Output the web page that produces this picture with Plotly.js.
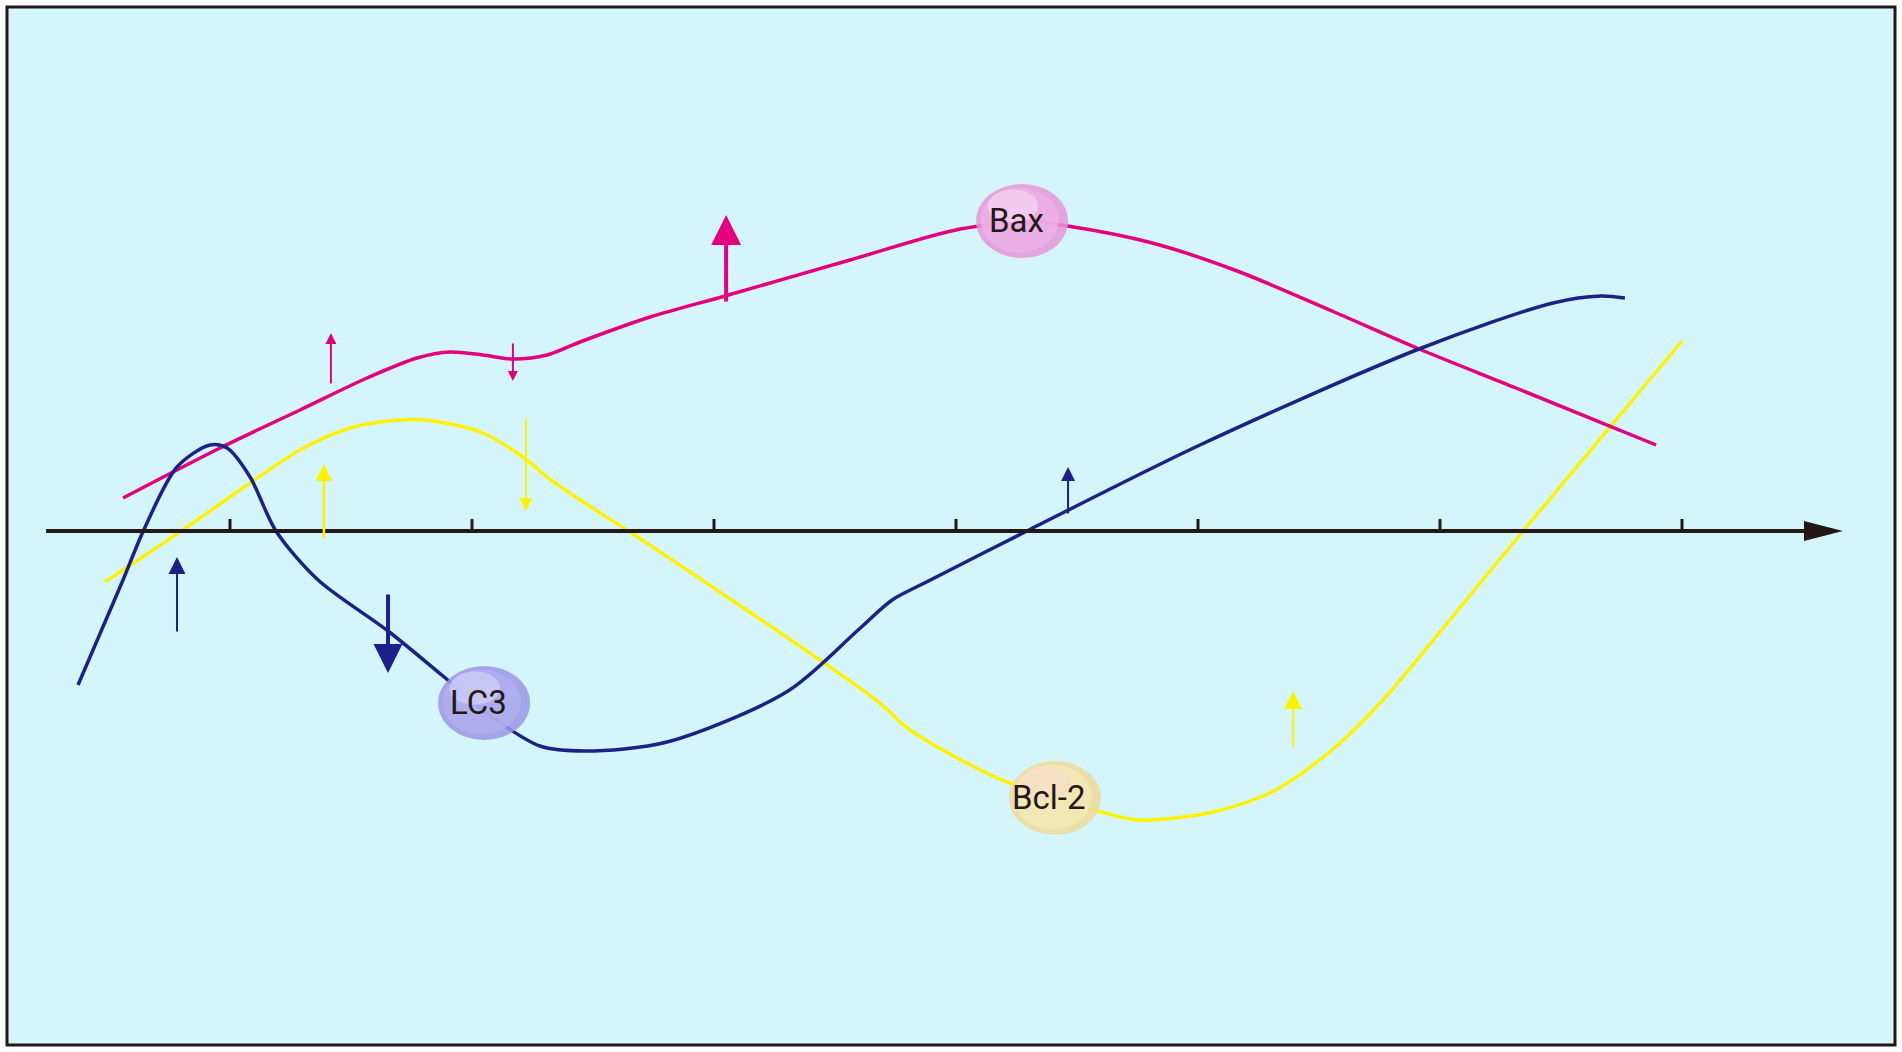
<!DOCTYPE html>
<html>
<head>
<meta charset="UTF-8">
<title>Bax / LC3 / Bcl-2</title>
<script src="https://cdn.plot.ly/plotly-3.0.1.min.js"></script>
<style>
  body { margin: 0; padding: 0; background: #fff; }
</style>
</head>
<body>
<div id="plot"></div>
<script>
// x in time steps (ticks 1..7), y relative level (0 = the time axis)
const tickVals = [1, 2, 3, 4, 5, 6, 7];

const baxX = [0.558, 0.959, 1.289, 1.566, 1.773, 1.909, 2.045, 2.169, 2.310, 2.446, 2.736, 3.045, 3.562, 4.017, 4.306, 4.460, 4.811, 5.162, 5.563, 5.914, 6.314, 6.893];
const baxY = [0.33, 0.83, 1.21, 1.53, 1.73, 1.79, 1.76, 1.72, 1.76, 1.89, 2.14, 2.35, 2.71, 3.02, 3.09, 3.05, 2.88, 2.60, 2.19, 1.82, 1.43, 0.86];

const lc3X = [0.372, 0.558, 0.640, 0.781, 0.917, 0.988, 1.083, 1.190, 1.364, 1.653, 1.880, 2.095, 2.281, 2.467, 2.806, 3.306, 3.600, 3.736, 3.870, 4.293, 5.008, 5.913, 6.467, 6.665, 6.764];
const lc3Y = [-1.54, -0.49, -0.01, 0.64, 0.86, 0.83, 0.54, 0.00, -0.49, -1.00, -1.45, -1.88, -2.15, -2.20, -2.11, -1.60, -0.98, -0.69, -0.52, 0.00, 0.86, 1.82, 2.28, 2.35, 2.33];

const bcl2X = [0.483, 0.793, 1.083, 1.289, 1.496, 1.702, 1.839, 2.045, 2.227, 2.310, 2.529, 2.653, 3.669, 3.800, 3.990, 4.211, 4.719, 4.811, 5.062, 5.313, 5.563, 5.764, 6.064, 6.364, 7.000];
const bcl2Y = [-0.51, -0.01, 0.48, 0.81, 1.03, 1.11, 1.10, 0.98, 0.71, 0.54, 0.18, -0.01, -1.69, -1.97, -2.25, -2.51, -2.88, -2.89, -2.81, -2.60, -2.17, -1.69, -0.82, 0.06, 1.90];

// small change arrows
const arrowSeries = ['Bax', 'Bax', 'Bax', 'LC3', 'LC3', 'LC3', 'Bcl-2', 'Bcl-2', 'Bcl-2'];
const arrowX    = [1.417, 2.169, 3.050, 0.781, 1.653, 4.463, 1.388, 2.223, 5.393];
const arrowFrom = [1.46, 1.89, 2.28, -1.02, -0.62, 0.16, -0.09, 1.14, -2.17];
const arrowTo   = [1.98, 1.50, 3.16, -0.26, -1.42, 0.64, 0.67, 0.20, -1.60];
const arrowLine = [2, 2, 4, 2, 4, 2, 2.5, 2, 2];
const arrowHead = [1.1, 1.0, 1.5, 1.7, 1.45, 1.4, 1.36, 1.3, 1.8];

// protein labels
const labelNames = ['Bax', 'LC3', 'Bcl-2'];
const labelX = [4.273, 2.050, 4.409];
const labelY = [3.10, -1.72, -2.67];

const colors = { 'Bax': '#e4007f', 'LC3': '#1d2088', 'Bcl-2': '#fff100' };
const ballRim = { 'Bax': '#e497d8', 'LC3': '#9b96e4', 'Bcl-2': '#eedb9a' };
const ballMid = { 'Bax': '#eeb2e7', 'LC3': '#b2afee', 'Bcl-2': '#f5e8b6' };
const ballGloss = { 'Bax': '#fbe6f8', 'LC3': '#e2e0fa', 'Bcl-2': '#f9d9d3' };
const ink = '#231815';

// pixel scale of the drawing
const pxX = 242, pxY = 100;
const rx = 46 / pxX, ry = 37 / pxY;

const curve = (x, y, name) => ({
    x: x, y: y, name: name, type: 'scatter', mode: 'lines',
    line: { color: colors[name], width: 3.5, shape: 'spline', smoothing: 0.85 },
    hoverinfo: 'skip'
});

const tickXs = [], tickYs = [];
tickVals.forEach(t => { tickXs.push(t, t, null); tickYs.push(0, 0.12, null); });

const axisStart = 0.240, axisTip = 7.665, headLen = 0.161, headHalf = 0.10;

const data = [
    curve(bcl2X, bcl2Y, 'Bcl-2'),
    curve(baxX, baxY, 'Bax'),
    curve(lc3X, lc3Y, 'LC3'),
    { x: [axisStart, axisTip - headLen + 0.02], y: [0, 0], type: 'scatter', mode: 'lines',
      line: { color: ink, width: 4 }, hoverinfo: 'skip' },
    { x: tickXs, y: tickYs, type: 'scatter', mode: 'lines',
      line: { color: ink, width: 3 }, hoverinfo: 'skip' }
];

const shapes = [
    { type: 'rect', xref: 'paper', yref: 'paper', x0: 0, x1: 1, y0: 0, y1: 1,
      line: { color: ink, width: 3 }, layer: 'above' },
    { type: 'path', xref: 'x', yref: 'y', layer: 'above',
      path: `M ${axisTip},0 L ${axisTip - headLen},${headHalf} L ${axisTip - headLen},${-headHalf} Z`,
      fillcolor: ink, line: { width: 0 } }
];

const ball = (cx, cy, l, r, b, t, color, op) => ({
    type: 'circle', xref: 'x', yref: 'y', layer: 'above',
    x0: cx - rx * l, x1: cx + rx * r, y0: cy - ry * b, y1: cy + ry * t,
    fillcolor: color, opacity: op, line: { width: 0 }
});

labelNames.forEach((n, i) => {
    const cx = labelX[i], cy = labelY[i];
    shapes.push(ball(cx, cy, 1, 1, 1, 1, ballRim[n], 0.85));
    shapes.push(ball(cx, cy, 0.9, 0.8, 0.85, 0.9, ballMid[n], 0.8));
    shapes.push(ball(cx, cy, 0.75, 0.35, 0.05, 0.85, ballGloss[n], 0.5));
});

const annotations = [];
arrowX.forEach((x, i) => {
    annotations.push({
        x: x, y: arrowTo[i], ax: x, ay: arrowFrom[i], axref: 'x', ayref: 'y',
        xref: 'x', yref: 'y', text: '', showarrow: true,
        arrowhead: 2, arrowwidth: arrowLine[i], arrowsize: arrowHead[i],
        arrowcolor: colors[arrowSeries[i]], standoff: 0
    });
});
labelNames.forEach((n, i) => {
    annotations.push({
        x: labelX[i], y: labelY[i], xref: 'x', yref: 'y', text: n, showarrow: false,
        xshift: -6, yshift: 1,
        font: { family: 'Liberation Sans Narrow, Roboto, sans-serif', size: 33, color: ink }
    });
});

const layout = {
    width: 1902, height: 1052,
    margin: { l: 7, r: 7, t: 7, b: 7 },
    paper_bgcolor: '#ffffff',
    plot_bgcolor: '#d5f5fc',
    showlegend: false,
    xaxis: { range: [(7 - 230) / pxX + 1, (1895 - 230) / pxX + 1], visible: false, fixedrange: true },
    yaxis: { range: [(531 - 1045) / pxY, (531 - 7) / pxY], visible: false, fixedrange: true },
    shapes: shapes,
    annotations: annotations
};

Plotly.newPlot('plot', data, layout, { staticPlot: true });
</script>
</body>
</html>
